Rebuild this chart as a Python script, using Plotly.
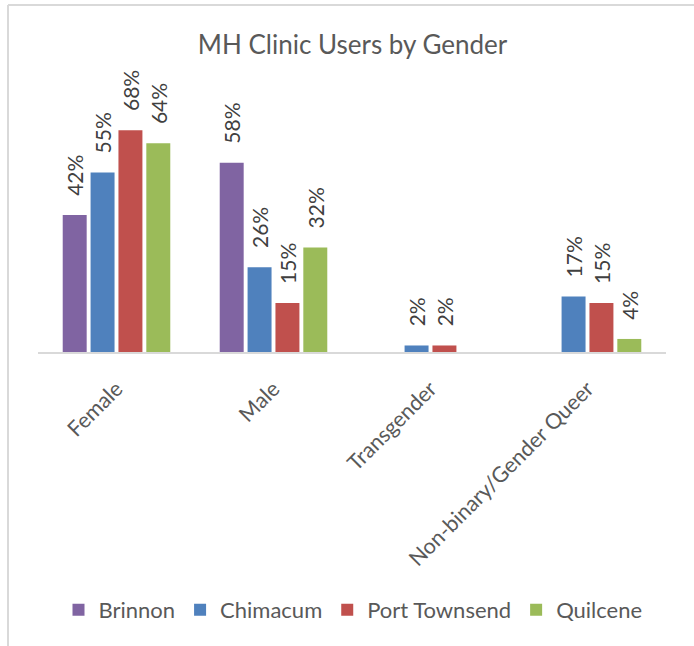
import plotly.graph_objects as go

categories = ["Female", "Male", "Transgender", "Non-binary/Gender Queer"]
series_names = ["Brinnon", "Chimacum", "Port Townsend", "Quilcene"]
brinnon = [0.42, 0.58, None, None]
chimacum = [0.55, 0.26, 0.02, 0.17]
port_townsend = [0.68, 0.15, 0.02, 0.15]
quilcene = [0.64, 0.32, None, 0.04]
colors = ["#8064A2", "#4F81BD", "#C0504D", "#9BBB59"]

FONT = "Lato"
PAD = "\u00a0\u00a0\u00a0"
fig = go.Figure()
for name, vals, col in zip(series_names, [brinnon, chimacum, port_townsend, quilcene], colors):
    fig.add_trace(go.Bar(
        x=categories, y=vals, name=name,
        marker=dict(color=col, line=dict(width=0)),
        text=[None if v is None else f"{PAD}{round(v*100)}%" for v in vals],
        textposition="outside", textangle=-90, constraintext="none",
        textfont=dict(family=FONT, size=21, color="#404040"),
        cliponaxis=False,
    ))

fig.update_layout(
    width=694, height=646,
    paper_bgcolor="white", plot_bgcolor="white",
    margin=dict(l=38, r=28, t=91, b=294, autoexpand=False),
    barmode="group", bargap=0.29, bargroupgap=0.14,
    title=dict(text="MH Clinic Users by Gender", x=0.508, xanchor="center",
               y=1 - 45/646, yanchor="middle",
               font=dict(family=FONT, size=26, color="#595959")),
    font=dict(family=FONT, color="#595959"),
    xaxis=dict(showline=True, linecolor="#D9D9D9", linewidth=1.5, ticks="",
               tickangle=-45, tickfont=dict(family=FONT, size=21.5, color="#595959"),
               ticklabelstandoff=14, showgrid=False),
    yaxis=dict(range=[0, 0.8], visible=False, showgrid=False, zeroline=False),
    legend=dict(orientation="h", x=(353-38)/628, xanchor="center",
                y=-(610-352)/261, yanchor="middle",
                font=dict(family=FONT, size=22, color="#595959"), traceorder="normal",
                itemwidth=30),
    showlegend=True,
)
fig.add_shape(type="line", xref="paper", yref="paper",
              x0=-30/628, x1=1.1, y0=1 + (91-5)/261, y1=1 + (91-5)/261,
              line=dict(color="#D9D9D9", width=2))
fig.add_shape(type="line", xref="paper", yref="paper",
              x0=-30/628, x1=-30/628, y0=1 + (91-5)/261, y1=-(650-352)/261,
              line=dict(color="#D9D9D9", width=2))

fig.write_html("out.html", config={"displayModeBar": False},
               post_script="document.body.style.margin='0';")
